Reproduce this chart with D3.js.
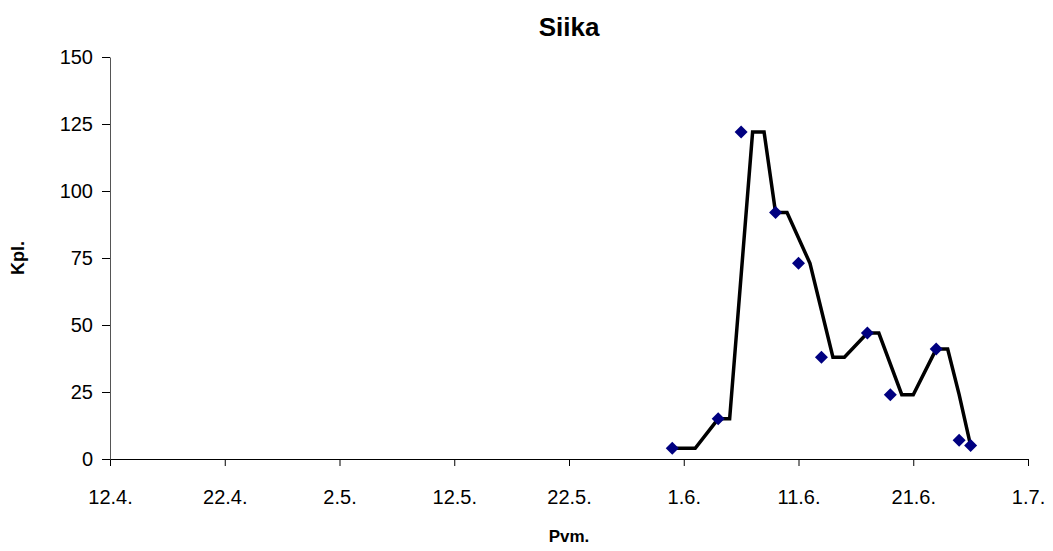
<!DOCTYPE html>
<html>
<head>
<meta charset="utf-8">
<script src="https://cdn.jsdelivr.net/npm/d3@7"></script>
<style>
  html, body { margin: 0; padding: 0; background: #fff; }
  svg { display: block; font-family: Arial, "Liberation Sans", sans-serif; }
</style>
</head>
<body>
<svg id="chart" width="1053" height="551"></svg>
<script>
// ---- data ----
const chartTitle = "Siika";
const xTitle = "Pvm.";
const yTitle = "Kpl.";

const xTickDates = ["2005-04-12","2005-04-22","2005-05-02","2005-05-12","2005-05-22","2005-06-01","2005-06-11","2005-06-21","2005-07-01"];
const xTickLabels = ["12.4.","22.4.","2.5.","12.5.","22.5.","1.6.","11.6.","21.6.","1.7."];
const yTickValues = [0, 25, 50, 75, 100, 125, 150];

// observed points (diamonds)
const pointDates = ["2005-05-31","2005-06-04","2005-06-06","2005-06-09","2005-06-11","2005-06-13","2005-06-17","2005-06-19","2005-06-23","2005-06-25","2005-06-26"];
const pointValues = [4, 15, 122, 92, 73, 38, 47, 24, 41, 7, 5];

// black line series
const lineDates = ["2005-05-31","2005-06-02","2005-06-04","2005-06-05","2005-06-07","2005-06-08","2005-06-09","2005-06-10","2005-06-12","2005-06-14","2005-06-15","2005-06-17","2005-06-18","2005-06-20","2005-06-21","2005-06-23","2005-06-24","2005-06-25","2005-06-26"];
const lineValues = [4, 4, 15, 15, 122, 122, 92, 92, 73, 38, 38, 47, 47, 24, 24, 41, 41, 24, 5];

// ---- layout ----
const W = 1053, H = 551;
const margin = { left: 110, right: 25, top: 57, bottom: 92 };
const parse = d3.utcParse("%Y-%m-%d");
const FONT = "Arial, 'Liberation Sans', sans-serif";

const svg = d3.select("#chart");
const x = d3.scaleUtc()
  .domain([parse(xTickDates[0]), parse(xTickDates[xTickDates.length - 1])])
  .range([margin.left, W - margin.right]);
const y = d3.scaleLinear().domain([0, 150]).range([H - margin.bottom, margin.top]);

// axes
const xAxis = d3.axisBottom(x)
  .tickValues(xTickDates.map(parse))
  .tickFormat((d, i) => xTickLabels[i])
  .tickSizeInner(7).tickSizeOuter(0).tickPadding(24);
const gx = svg.append("g").attr("transform", `translate(0,${y(0)})`).call(xAxis);
gx.attr("font-size", 20).attr("font-family", FONT);
gx.selectAll("text").attr("fill", "#000");
gx.selectAll("line").attr("stroke", "#000");
gx.select(".domain").attr("stroke", "#000");

const yAxis = d3.axisLeft(y)
  .tickValues(yTickValues)
  .tickSizeInner(8).tickSizeOuter(0).tickPadding(9);
const gy = svg.append("g").attr("transform", `translate(${margin.left},0)`).call(yAxis);
gy.attr("font-size", 20).attr("font-family", FONT);
gy.selectAll("text").attr("fill", "#000");
gy.selectAll("line").attr("stroke", "#000");
gy.select(".domain").attr("stroke", "#555");

// line
const lineData = lineDates.map((d, i) => ({ date: parse(d), value: lineValues[i] }));
svg.append("path")
  .datum(lineData)
  .attr("fill", "none")
  .attr("stroke", "#000")
  .attr("stroke-width", 3.5)
  .attr("stroke-linejoin", "miter")
  .attr("d", d3.line().x(d => x(d.date)).y(d => y(d.value)));

// points (diamonds)
const pointData = pointDates.map((d, i) => ({ date: parse(d), value: pointValues[i] }));
svg.append("g").selectAll("path")
  .data(pointData)
  .join("path")
  .attr("transform", d => `translate(${x(d.date)},${y(d.value)})`)
  .attr("d", "M0,-6.5L6.5,0L0,6.5L-6.5,0Z")
  .attr("fill", "#000080");

// titles
svg.append("text")
  .attr("x", (margin.left + W - margin.right) / 2)
  .attr("y", 36)
  .attr("text-anchor", "middle")
  .attr("font-size", 26)
  .attr("font-weight", "bold")
  .text(chartTitle);

svg.append("text")
  .attr("x", (margin.left + W - margin.right) / 2)
  .attr("y", 542)
  .attr("text-anchor", "middle")
  .attr("font-size", 17)
  .attr("font-weight", "bold")
  .text(xTitle);

svg.append("text")
  .attr("transform", `translate(24,${(margin.top + H - margin.bottom) / 2}) rotate(-90)`)
  .attr("text-anchor", "middle")
  .attr("font-size", 18)
  .attr("font-weight", "bold")
  .text(yTitle);
</script>
</body>
</html>
